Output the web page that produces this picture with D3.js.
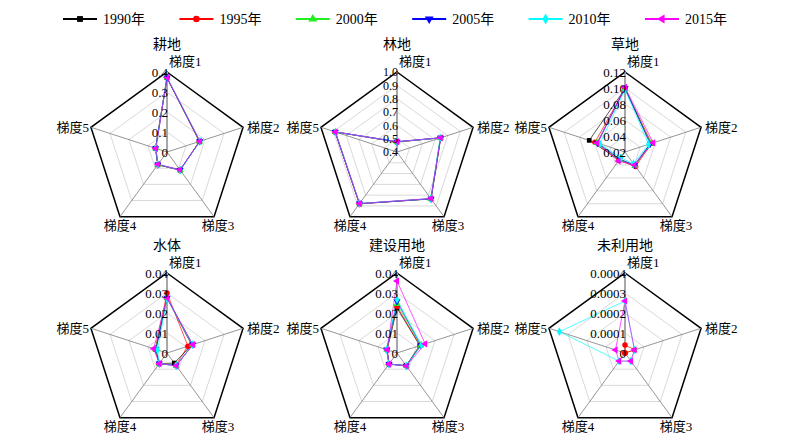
<!DOCTYPE html>
<html>
<head>
<meta charset="utf-8">
<script src="https://cdn.jsdelivr.net/npm/d3@7"></script>
<style>
  body { margin: 0; background: #fff; }
  text { font-family: "Liberation Serif", "Noto Sans CJK SC", serif; fill: #000; }
</style>
</head>
<body>
<script>
// ---- data ----
var years = ["1990年", "1995年", "2000年", "2005年", "2010年", "2015年"];
var gradients = ["梯度1", "梯度2", "梯度3", "梯度4", "梯度5"];
var landTypes = ["耕地", "林地", "草地", "水体", "建设用地", "未利用地"];

// radial axis per land type
var axisMin = [0, 0.4, 0.02, 0, 0, 0];
var axisMax = [0.4, 1.0, 0.12, 0.04, 0.04, 0.0004];
var tickLabels = [
  ["0", "0.1", "0.2", "0.3", "0.4"],
  ["0.4", "0.5", "0.6", "0.7", "0.8", "0.9", "1.0"],
  ["0.02", "0.04", "0.06", "0.08", "0.10", "0.12"],
  ["0", "0.01", "0.02", "0.03", "0.04"],
  ["0", "0.01", "0.02", "0.03", "0.04"],
  ["0", "0.0001", "0.0002", "0.0003", "0.0004"]
];

// one row per year, one value per gradient
var gengdi = [
  [0.372, 0.172, 0.112, 0.078, 0.060],
  [0.370, 0.170, 0.113, 0.079, 0.061],
  [0.370, 0.171, 0.112, 0.078, 0.060],
  [0.371, 0.172, 0.111, 0.078, 0.060],
  [0.375, 0.174, 0.112, 0.077, 0.059],
  [0.372, 0.173, 0.110, 0.076, 0.058]
];
var lindi = [
  [0.475, 0.745, 0.835, 0.880, 0.888],
  [0.476, 0.744, 0.834, 0.880, 0.887],
  [0.476, 0.742, 0.833, 0.878, 0.886],
  [0.477, 0.743, 0.834, 0.879, 0.887],
  [0.478, 0.740, 0.832, 0.877, 0.885],
  [0.478, 0.744, 0.831, 0.878, 0.886]
];
var caodi = [
  [0.099, 0.054, 0.041, 0.032, 0.067],
  [0.099, 0.055, 0.0425, 0.033, 0.0595],
  [0.099, 0.054, 0.041, 0.032, 0.057],
  [0.100, 0.053, 0.040, 0.031, 0.056],
  [0.098, 0.051, 0.038, 0.029, 0.053],
  [0.101, 0.057, 0.040, 0.034, 0.0565]
];
var shuiti = [
  [0.0275, 0.0130, 0.0062, 0.0066, 0.0060],
  [0.0300, 0.0110, 0.0075, 0.0066, 0.0062],
  [0.0275, 0.0134, 0.0078, 0.0066, 0.0060],
  [0.0275, 0.0135, 0.0078, 0.0066, 0.0058],
  [0.0272, 0.0135, 0.0078, 0.0065, 0.0050],
  [0.0275, 0.0136, 0.0079, 0.0066, 0.0070]
];
var jianshe = [
  [0.0225, 0.0120, 0.0078, 0.0068, 0.0052],
  [0.0232, 0.0121, 0.0079, 0.0068, 0.0053],
  [0.0245, 0.0124, 0.0079, 0.0068, 0.0053],
  [0.0258, 0.0126, 0.0079, 0.0068, 0.0054],
  [0.0268, 0.0128, 0.0079, 0.0069, 0.0055],
  [0.0360, 0.0148, 0.0080, 0.0069, 0.0052]
];
var weiliyong = [
  null,
  [0.00004, 0.00005, 0, 0, 0],
  null,
  null,
  [0.00026, 0.00005, 0.00005, 0.00005, 0.000345],
  [0.00026, 0.00005, 0.00005, 0.00005, 0.00005]
];
var allValues = [gengdi, lindi, caodi, shuiti, jianshe, weiliyong];

// ---- layout ----
var width = 800, height = 447, R = 80;
var colX = [167, 397, 625], rowY = [152, 353];
var colors = ["#000000", "#ff0000", "#22ee22", "#0000ff", "#00ffff", "#ff00ff"];
var symbols = [d3.symbolSquare, d3.symbolCircle, d3.symbolTriangle, d3.symbolTriangle, d3.symbolDiamond, d3.symbolTriangle];
var rotations = [0, 0, 0, 180, 0, -90];

var svg = d3.select("body").append("svg")
    .attr("width", width)
    .attr("height", height);

function marker(g, i, x, y, size) {
  g.append("path")
    .attr("d", d3.symbol().type(symbols[i]).size(size || 22)())
    .attr("transform", "translate(" + x + "," + y + ") rotate(" + rotations[i] + ")")
    .attr("fill", colors[i]);
}

// ---- legend (spans the width of the chart grid) ----
var legendX = d3.scalePoint().domain(years).range([103, 685]);
var legend = svg.append("g");
years.forEach(function(y, i) {
  var x = legendX(y);
  legend.append("line")
    .attr("x1", x - 40).attr("x2", x - 6)
    .attr("y1", 19).attr("y2", 19)
    .attr("stroke", colors[i]).attr("stroke-width", 2);
  marker(legend, i, x - 23, 19, 34);
  legend.append("text")
    .attr("x", x).attr("y", 24)
    .style("font-size", "14px")
    .text(y);
});

// ---- radar charts ----
var angle = d3.scaleLinear().domain([0, gradients.length]).range([0, 2 * Math.PI]);

landTypes.forEach(function(name, k) {
  var cx = colX[k % 3], cy = rowY[Math.floor(k / 3)];
  var r = d3.scaleLinear().domain([axisMin[k], axisMax[k]]).range([0, R]);
  var g = svg.append("g").attr("transform", "translate(" + cx + "," + cy + ")");

  function pt(i, v) {
    var a = angle(i);
    return [r(v) * Math.sin(a), -r(v) * Math.cos(a)];
  }

  var ticks = tickLabels[k].map(Number);
  var ring = d3.line().curve(d3.curveLinearClosed);

  // grid rings
  ticks.slice(1).forEach(function(t, j) {
    var outer = j == ticks.length - 2;
    g.append("path")
      .attr("d", ring(gradients.map(function(_, i) { return pt(i, t); })))
      .attr("fill", "none")
      .attr("stroke", outer ? "#000" : "#cfcfcf")
      .attr("stroke-width", outer ? 1.5 : 0.8);
  });

  // spokes
  gradients.forEach(function(_, i) {
    var p = pt(i, axisMax[k]);
    g.append("line")
      .attr("x1", 0).attr("y1", 0).attr("x2", p[0]).attr("y2", p[1])
      .attr("stroke", i == 0 ? "#a8a8a8" : "#7a7a7a")
      .attr("stroke-width", i == 0 ? 2 : 0.8);
  });

  // series
  var line = d3.line().curve(d3.curveLinearClosed);
  allValues[k].forEach(function(vals, s) {
    if (!vals) return;
    var pts = vals.map(function(v, i) { return pt(i, v); });
    g.append("path")
      .attr("d", line(pts))
      .attr("fill", "none")
      .attr("stroke", colors[s])
      .attr("stroke-opacity", 0.75)
      .attr("stroke-width", 0.9);
  });
  allValues[k].forEach(function(vals, s) {
    if (!vals) return;
    vals.forEach(function(v, i) {
      var p = pt(i, v);
      marker(g, s, p[0], p[1], s == 1 ? 24 : 22);
    });
  });

  // tick labels along 梯度1 (林地 has tighter ticks)
  var tickSize = k == 1 ? 12 : 13;
  tickLabels[k].forEach(function(lbl) {
    g.append("text")
      .attr("x", 1).attr("y", -r(+lbl) + tickSize * 0.35)
      .attr("text-anchor", "end")
      .style("font-size", tickSize + "px")
      .text(lbl);
  });

  // gradient labels
  gradients.forEach(function(lbl, i) {
    var p = pt(i, axisMax[k]);
    var t = g.append("text").style("font-size", "13px").text(lbl);
    if (i == 0) t.attr("x", p[0] + 2).attr("y", p[1] - 6);
    else if (i == 1) t.attr("x", p[0] + 4).attr("y", p[1] + 5);
    else if (i == 4) t.attr("x", p[0] - 2).attr("y", p[1] + 5).attr("text-anchor", "end");
    else t.attr("x", p[0] + (i == 2 ? 4 : 0)).attr("y", p[1] + 13).attr("text-anchor", "middle");
  });

  // title
  g.append("text")
    .attr("x", 0).attr("y", -R - 23)
    .attr("text-anchor", "middle")
    .style("font-size", "14px")
    .text(name);
});
</script>
</body>
</html>
